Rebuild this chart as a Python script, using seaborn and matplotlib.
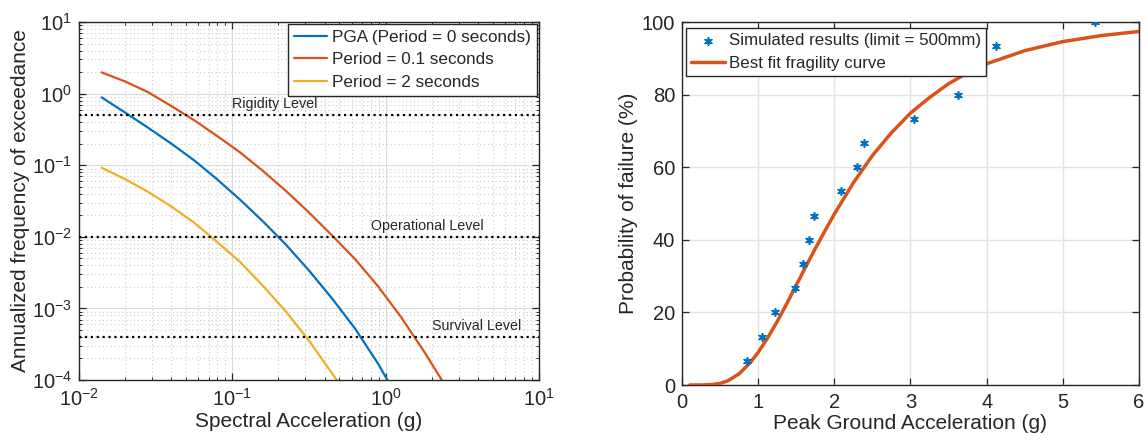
import numpy as np
import seaborn as sns
import matplotlib
matplotlib.use('Agg')
import matplotlib.pyplot as plt
from matplotlib.ticker import LogLocator, NullFormatter, MultipleLocator

# hazard curves
sa_pga = [0.01406, 0.01995, 0.02818, 0.03981, 0.05623, 0.07943, 0.1122, 0.1585, 0.2239,
          0.3162, 0.4467, 0.6310, 0.8913, 1.026]
freq_pga = [0.887, 0.5458, 0.3350, 0.2018, 0.1175, 0.06383, 0.03311, 0.01641, 0.007762,
            0.003388, 0.001380, 0.0005248, 0.0001698, 0.0001]

sa_p01 = [0.01406, 0.01995, 0.02818, 0.03981, 0.05623, 0.07943, 0.1122, 0.1585, 0.2239,
          0.3162, 0.4467, 0.6310, 0.8913, 1.259, 1.778, 2.323]
freq_p01 = [1.982, 1.483, 1.050, 0.6761, 0.4266, 0.2570, 0.1514, 0.08318, 0.04365,
            0.02188, 0.01047, 0.004898, 0.002042, 0.0007586, 0.0002512, 0.0001]

sa_p2 = [0.01406, 0.01995, 0.02818, 0.03981, 0.05623, 0.07943, 0.1122, 0.1585, 0.2239,
         0.3162, 0.4797]
freq_p2 = [0.09226, 0.06412, 0.04246, 0.02673, 0.01585, 0.008511, 0.004467, 0.002065,
           0.0009016, 0.0003548, 0.0001]

level_names = ['Rigidity Level', 'Operational Level', 'Survival Level']
level_freq = [0.5, 0.01, 0.0004]
level_text_x = [0.19, 1.87, 3.94]

# fragility data, right panel
pga_sim = [0.85, 1.053, 1.218, 1.487, 1.591, 1.671, 1.737, 2.087, 2.304, 2.394, 3.05, 3.63, 4.126, 5.42]
pf_sim = [6.67, 13.33, 20.0, 26.67, 33.33, 40.0, 46.67, 53.33, 60.0, 66.67, 73.33, 80.0, 93.33, 100.0]

pga_fit = [0.1, 0.25, 0.4, 0.5, 0.6, 0.75, 0.9, 1.0, 1.125, 1.25, 1.375, 1.5, 1.625, 1.75, 1.875,
           2.0, 2.25, 2.5, 2.75, 3.0, 3.25, 3.5, 3.75, 4.0, 4.5, 5.0, 5.5, 6.0]
pf_fit = [0.0, 0.005, 0.13, 0.45, 1.14, 3.09, 6.25, 9.0, 13.0, 17.5, 22.4, 27.5, 32.6, 37.6, 42.4,
          47.1, 55.7, 63.2, 69.5, 74.9, 79.2, 83.0, 86.0, 88.5, 92.1, 94.6, 96.25, 97.4]

blue = '#0072BD'
red = '#D95319'
yellow = '#EDB120'
dark = '#262626'

sns.set_style('ticks')
plt.rcParams['font.family'] = ['Liberation Sans', 'DejaVu Sans']
plt.rcParams['mathtext.fontset'] = 'custom'
plt.rcParams['mathtext.rm'] = 'Liberation Sans'
plt.rcParams['mathtext.it'] = 'Liberation Sans'
plt.rcParams['axes.edgecolor'] = dark
plt.rcParams['xtick.color'] = dark
plt.rcParams['ytick.color'] = dark
plt.rcParams['text.color'] = dark
plt.rcParams['axes.labelcolor'] = dark

fig = plt.figure(figsize=(11.48, 4.43), dpi=100)
ax1 = fig.add_axes([0.0688, 0.1422, 0.4007, 0.808])
ax2 = fig.add_axes([0.5941, 0.1309, 0.3980, 0.8194])

# ---- left: hazard curves
sns.lineplot(x=sa_pga, y=freq_pga, color=blue, lw=1.6, ax=ax1, label='PGA (Period = 0 seconds)', sort=False)
sns.lineplot(x=sa_p01, y=freq_p01, color=red, lw=1.6, ax=ax1, label='Period = 0.1 seconds', sort=False)
sns.lineplot(x=sa_p2, y=freq_p2, color=yellow, lw=1.6, ax=ax1, label='Period = 2 seconds', sort=False)

for name, f, tx in zip(level_names, level_freq, level_text_x):
    ax1.axhline(f, color='black', ls=':', lw=1.6, zorder=3)
    ax1.annotate(name, (tx, f), xytext=(0, 3), textcoords='offset points',
                 ha='center', va='bottom', fontsize=10.3, color=dark)

ax1.set_xscale('log')
ax1.set_yscale('log')
ax1.set_xlim(1e-2, 1e1)
ax1.set_ylim(1e-4, 1e1)
ax1.xaxis.set_major_locator(LogLocator(base=10, numticks=10))
ax1.yaxis.set_major_locator(LogLocator(base=10, numticks=10))
ax1.xaxis.set_minor_locator(LogLocator(base=10, subs=np.arange(2, 10), numticks=20))
ax1.yaxis.set_minor_locator(LogLocator(base=10, subs=np.arange(2, 10), numticks=20))
ax1.xaxis.set_minor_formatter(NullFormatter())
ax1.yaxis.set_minor_formatter(NullFormatter())
ax1.grid(which='major', color='#dcdcdc', lw=0.8)
ax1.grid(which='minor', color='#cccccc', ls=(0, (1, 2.5)), lw=0.8)
ax1.set_xlabel('Spectral Acceleration (g)', fontsize=15, labelpad=1)
ax1.set_ylabel('Annualized frequency of exceedance', fontsize=15, labelpad=1)
leg1 = ax1.legend(loc='upper right', fontsize=12.3, frameon=True, fancybox=False, framealpha=1,
                  edgecolor=dark, borderaxespad=0.1, handlelength=1.95, labelspacing=0.45,
                  handletextpad=0.3, borderpad=0.35)
leg1.get_frame().set_linewidth(1.0)

# ---- right: fragility curve
sns.scatterplot(x=pga_sim, y=pf_sim, marker=(6, 2, 0), color=blue, s=28, linewidth=1.2,
                ax=ax2, label='Simulated results (limit = 500mm)', zorder=4)
sns.lineplot(x=pga_fit, y=pf_fit, color=red, lw=2.5, ax=ax2, label='Best fit fragility curve', zorder=3)
ax2.set_xlim(0, 6)
ax2.set_ylim(0, 100)
ax2.xaxis.set_major_locator(MultipleLocator(1))
ax2.yaxis.set_major_locator(MultipleLocator(20))
ax2.grid(which='major', color='#e3e3e3', lw=1.0)
ax2.set_xlabel('Peak Ground Acceleration (g)', fontsize=15, labelpad=1)
ax2.set_ylabel('Probability of failure (%)', fontsize=15, labelpad=3)
leg2 = ax2.legend(loc='upper left', bbox_to_anchor=(0.008, 0.983), fontsize=12.2, frameon=True,
                  fancybox=False, framealpha=1, edgecolor=dark, borderaxespad=0,
                  handlelength=2.0, labelspacing=0.48, handletextpad=0.25, borderpad=0.3)
leg2.get_frame().set_linewidth(1.0)

for ax in (ax1, ax2):
    ax.set_axisbelow(True)
    for s in ax.spines.values():
        s.set_visible(True)
        s.set_linewidth(1.0)
    ax.tick_params(which='both', direction='in', top=True, right=True, labelsize=14.5)
    ax.tick_params(which='major', length=5, width=0.9)
    ax.tick_params(which='minor', length=2.5, width=0.7)
    ax.tick_params(axis='x', which='major', pad=6)
    ax.tick_params(axis='y', which='major', pad=5)

fig.savefig('out.png', dpi=100)
